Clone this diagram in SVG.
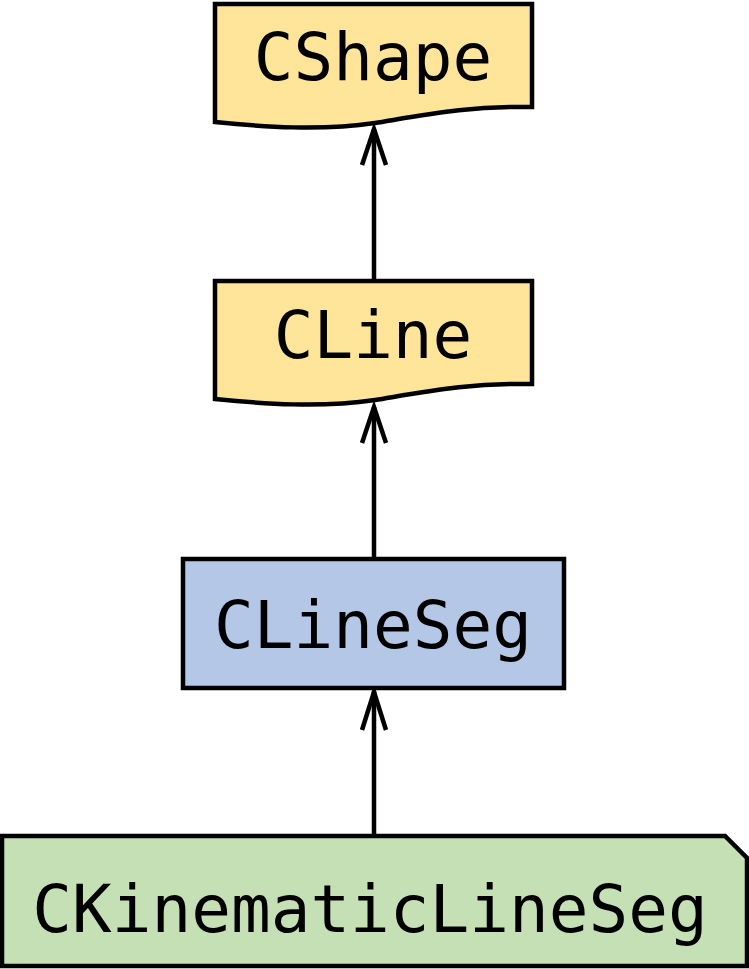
<svg xmlns="http://www.w3.org/2000/svg" width="749" height="969" viewBox="0 0 749 969">
<style>
.n{stroke:#000;stroke-width:4.5;stroke-linejoin:miter}
.t{font-family:"DejaVu Sans Mono",monospace;font-size:66px;fill:#000;text-anchor:middle}
.e{stroke:#000;stroke-width:4.5;fill:none}
</style>
<g id="edges">
<line class="e" x1="374" y1="281" x2="374" y2="129"/>
<path class="e" d="M362,165 L374,129 L386,165"/>
<line class="e" x1="374" y1="559" x2="374" y2="407"/>
<path class="e" d="M362,443 L374,407 L386,443"/>
<line class="e" x1="374" y1="836" x2="374" y2="691"/>
<path class="e" d="M362,730 L374,692 L386,730"/>
</g>
<g id="CShape">
<path class="n" fill="#FFE599" d="M215,4 H532 V107 C470,106 430,114 375,123 C320,131 265,127 215,122 Z"/>
<text class="t" x="373" y="80">CShape</text>
</g>
<g id="CLine">
<path class="n" fill="#FFE599" d="M215,281 H532 V384 C470,383 430,391 375,400 C320,408 265,404 215,399 Z"/>
<text class="t" x="373" y="358">CLine</text>
</g>
<g id="CLineSeg">
<rect class="n" fill="#B4C7E7" x="183" y="559" width="381" height="129"/>
<text class="t" x="373" y="648">CLineSeg</text>
</g>
<g id="CKinematicLineSeg">
<path class="n" fill="#C5E0B4" d="M2,836 H725 L747,858 V966 H2 Z"/>
<text class="t" x="370" y="932">CKinematicLineSeg</text>
</g>
</svg>
